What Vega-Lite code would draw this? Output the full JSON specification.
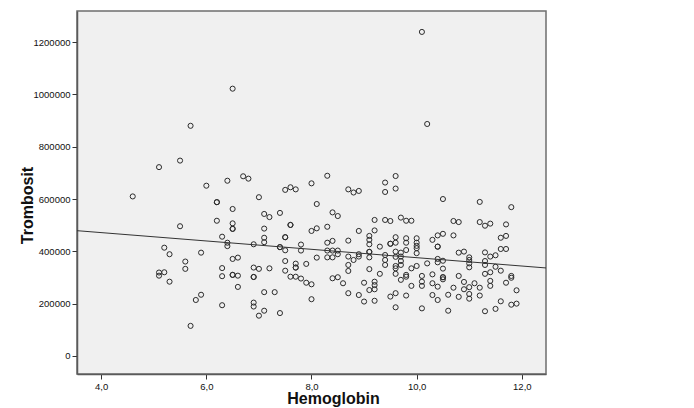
{
  "$schema": "https://vega.github.io/schema/vega-lite/v6.json",
  "width": 469,
  "height": 363,
  "autosize": "none",
  "padding": {"left": 77, "top": 11, "right": 148, "bottom": 34},
  "background": "white",
  "config": {
    "font": "Liberation Sans",
    "locale": {"number": {"decimal": ",", "thousands": "", "grouping": [3], "currency": ["", ""]}},
    "view": {"fill": "#F0F0F0", "stroke": "#6E6E6E", "strokeWidth": 1.5},
    "axis": {
      "grid": false,
      "domainColor": "#5A5A5A",
      "domainWidth": 1.5,
      "tickColor": "#333333",
      "tickSize": 5,
      "labelFontSize": 9.5,
      "labelColor": "#111111",
      "labelPadding": 2,
      "titleFontSize": 16,
      "titleFontWeight": "bold",
      "titleColor": "#111111"
    }
  },
  "datasets": {
    "fit": [
      {"h": 3.54, "t": 479000},
      {"h": 12.46, "t": 336500}
    ]
  },
  "data": {
    "values": [
      {"h":4.6,"t":610000},{"h":5.1,"t":722000},{"h":5.5,"t":747000},{"h":5.7,"t":880000},{"h":6.5,"t":1022000},
      {"h":6.0,"t":651000},{"h":6.4,"t":670000},{"h":6.7,"t":687000},{"h":6.8,"t":678000},{"h":6.2,"t":588000},
      {"h":6.2,"t":588000},{"h":6.5,"t":562000},{"h":7.0,"t":607000},{"h":7.5,"t":635000},{"h":7.6,"t":645000},
      {"h":7.7,"t":637000},{"h":8.0,"t":660000},{"h":8.1,"t":581000},{"h":8.3,"t":689000},{"h":8.7,"t":637000},
      {"h":10.1,"t":1239000},{"h":10.2,"t":887000},{"h":9.6,"t":688000},{"h":9.4,"t":663000},{"h":9.6,"t":640000},
      {"h":9.4,"t":627000},{"h":8.8,"t":625000},{"h":8.9,"t":631000},{"h":10.5,"t":600000},{"h":11.2,"t":589000},
      {"h":11.8,"t":569000},
      {"h":6.2,"t":517000},{"h":6.5,"t":507000},{"h":6.5,"t":486000},{"h":6.5,"t":486000},{"h":7.1,"t":543000},
      {"h":7.2,"t":531000},{"h":7.4,"t":547000},{"h":7.6,"t":501000},{"h":7.6,"t":501000},{"h":8.0,"t":478000},
      {"h":6.3,"t":456000},{"h":6.4,"t":433000},{"h":6.4,"t":420000},{"h":7.1,"t":487000},{"h":7.1,"t":452000},
      {"h":7.1,"t":435000},{"h":7.5,"t":454000},{"h":7.5,"t":454000},{"h":6.9,"t":427000},{"h":7.4,"t":416000},
      {"h":7.4,"t":416000},{"h":7.5,"t":404000},{"h":7.8,"t":426000},{"h":7.8,"t":403000},{"h":5.9,"t":395000},
      {"h":6.5,"t":371000},{"h":6.6,"t":376000},{"h":6.3,"t":336000},{"h":6.3,"t":305000},{"h":6.5,"t":310000},
      {"h":6.5,"t":310000},{"h":6.6,"t":307000},{"h":6.9,"t":338000},{"h":7.0,"t":333000},{"h":7.2,"t":335000},
      {"h":6.9,"t":302000},{"h":6.9,"t":302000},{"h":7.5,"t":363000},{"h":7.5,"t":326000},{"h":7.7,"t":353000},
      {"h":7.7,"t":338000},{"h":7.7,"t":338000},{"h":7.9,"t":352000},{"h":7.6,"t":303000},{"h":7.7,"t":303000},
      {"h":7.8,"t":296000},{"h":7.9,"t":280000},{"h":8.0,"t":274000},{"h":6.6,"t":264000},{"h":5.9,"t":234000},
      {"h":7.1,"t":244000},{"h":7.3,"t":244000},{"h":8.0,"t":217000},{"h":6.3,"t":194000},{"h":6.9,"t":204000},
      {"h":6.9,"t":189000},{"h":7.1,"t":173000},{"h":7.0,"t":154000},{"h":7.4,"t":164000},
      {"h":5.5,"t":496000},{"h":5.2,"t":414000},{"h":5.3,"t":389000},{"h":5.6,"t":361000},{"h":5.6,"t":333000},
      {"h":5.1,"t":319000},{"h":5.1,"t":307000},{"h":5.2,"t":320000},{"h":5.3,"t":284000},{"h":5.8,"t":214000},
      {"h":5.7,"t":115000},
      {"h":8.4,"t":549000},{"h":8.5,"t":535000},{"h":9.2,"t":520000},{"h":9.4,"t":520000},{"h":9.5,"t":516000},
      {"h":9.7,"t":529000},{"h":9.8,"t":517000},{"h":9.9,"t":517000},{"h":8.1,"t":488000},{"h":8.3,"t":494000},
      {"h":8.9,"t":478000},{"h":9.2,"t":480000},{"h":8.3,"t":433000},{"h":8.4,"t":440000},{"h":8.7,"t":441000},
      {"h":9.1,"t":459000},{"h":9.1,"t":444000},{"h":9.1,"t":427000},{"h":9.1,"t":398000},{"h":9.1,"t":398000},
      {"h":9.1,"t":377000},{"h":9.3,"t":418000},{"h":9.5,"t":429000},{"h":9.5,"t":429000},{"h":9.6,"t":454000},
      {"h":9.6,"t":433000},{"h":9.6,"t":399000},{"h":9.6,"t":379000},{"h":9.6,"t":344000},{"h":9.6,"t":335000},
      {"h":9.6,"t":314000},{"h":9.8,"t":450000},{"h":9.8,"t":433000},{"h":9.8,"t":405000},{"h":10.0,"t":450000},
      {"h":10.0,"t":433000},{"h":10.0,"t":421000},{"h":10.0,"t":412000},{"h":10.0,"t":393000},{"h":8.3,"t":403000},
      {"h":8.4,"t":403000},{"h":8.5,"t":403000},{"h":8.5,"t":389000},{"h":8.3,"t":377000},{"h":8.4,"t":377000},
      {"h":8.1,"t":376000},{"h":8.7,"t":380000},{"h":8.8,"t":367000},{"h":8.9,"t":380000},{"h":8.9,"t":389000},
      {"h":9.4,"t":386000},{"h":9.4,"t":367000},{"h":9.4,"t":348000},{"h":9.7,"t":395000},{"h":9.7,"t":380000},
      {"h":9.7,"t":363000},{"h":9.7,"t":348000},{"h":9.9,"t":335000},{"h":9.8,"t":310000},{"h":9.8,"t":303000},
      {"h":8.7,"t":348000},{"h":8.7,"t":325000},{"h":9.1,"t":332000},{"h":9.3,"t":314000},{"h":9.7,"t":291000},
      {"h":10.0,"t":344000},{"h":8.4,"t":297000},{"h":8.5,"t":301000},{"h":8.6,"t":278000},{"h":9.0,"t":280000},
      {"h":9.2,"t":284000},{"h":9.2,"t":271000},{"h":9.2,"t":255000},{"h":9.1,"t":252000},{"h":8.7,"t":240000},
      {"h":8.9,"t":233000},{"h":9.0,"t":208000},{"h":9.2,"t":211000},{"h":9.5,"t":227000},{"h":9.6,"t":240000},
      {"h":9.8,"t":231000},{"h":9.9,"t":268000},{"h":9.6,"t":186000},
      {"h":10.7,"t":516000},{"h":10.8,"t":512000},{"h":11.2,"t":512000},{"h":11.3,"t":498000},{"h":11.4,"t":506000},
      {"h":11.7,"t":503000},{"h":10.7,"t":461000},{"h":10.4,"t":461000},{"h":10.5,"t":467000},{"h":10.3,"t":444000},
      {"h":10.4,"t":418000},{"h":10.4,"t":418000},{"h":11.6,"t":452000},{"h":11.7,"t":459000},{"h":11.6,"t":409000},
      {"h":11.7,"t":409000},{"h":10.8,"t":395000},{"h":10.9,"t":399000},{"h":11.3,"t":396000},{"h":11.4,"t":380000},
      {"h":11.5,"t":385000},{"h":10.4,"t":371000},{"h":10.4,"t":358000},{"h":10.5,"t":364000},{"h":10.2,"t":354000},
      {"h":11.0,"t":377000},{"h":11.0,"t":367000},{"h":11.0,"t":354000},{"h":11.0,"t":339000},{"h":11.3,"t":363000},
      {"h":11.3,"t":348000},{"h":10.5,"t":334000},{"h":11.5,"t":341000},{"h":11.6,"t":326000},{"h":10.1,"t":306000},
      {"h":10.1,"t":284000},{"h":10.1,"t":268000},{"h":10.3,"t":312000},{"h":10.3,"t":278000},{"h":10.5,"t":301000},
      {"h":10.5,"t":301000},{"h":10.5,"t":293000},{"h":10.4,"t":265000},{"h":10.8,"t":306000},{"h":10.9,"t":283000},
      {"h":11.1,"t":278000},{"h":11.2,"t":261000},{"h":11.3,"t":314000},{"h":11.4,"t":320000},{"h":11.4,"t":287000},
      {"h":11.4,"t":268000},{"h":11.8,"t":306000},{"h":11.8,"t":299000},{"h":11.7,"t":280000},{"h":10.7,"t":261000},
      {"h":10.9,"t":255000},{"h":11.0,"t":263000},{"h":11.0,"t":237000},{"h":11.0,"t":219000},{"h":11.2,"t":231000},
      {"h":11.9,"t":251000},{"h":10.6,"t":234000},{"h":10.8,"t":226000},{"h":10.3,"t":233000},{"h":10.4,"t":214000},
      {"h":10.1,"t":182000},{"h":10.6,"t":173000},{"h":11.3,"t":171000},{"h":11.5,"t":180000},{"h":11.6,"t":209000},
      {"h":11.8,"t":196000},{"h":11.9,"t":200000}
    ]
  },
  "layer": [
    {
      "mark": {"type": "point", "shape": "circle", "filled": false, "stroke": "#2B2B2B", "strokeWidth": 1, "size": 26, "opacity": 1},
      "encoding": {
        "x": {
          "field": "h", "type": "quantitative",
          "scale": {"domain": [3.54, 12.46], "nice": false, "zero": false},
          "axis": {"values": [4, 6, 8, 10, 12], "format": ".1f", "title": "Hemoglobin",
                   "titleX": 256, "titleY": 29, "titleAlign": "center", "titleBaseline": "alphabetic"}
        },
        "y": {
          "field": "t", "type": "quantitative",
          "scale": {"domain": [-69000, 1319000], "nice": false, "zero": false},
          "axis": {"values": [0, 200000, 400000, 600000, 800000, 1000000, 1200000], "format": "d", "title": "Trombosit",
                   "titleX": -50, "titleY": 194, "titleAlign": "center", "titleBaseline": "middle", "titleAngle": -90}
        }
      }
    },
    {
      "data": {"name": "fit"},
      "mark": {"type": "line", "color": "#333333", "strokeWidth": 1},
      "encoding": {
        "x": {"field": "h", "type": "quantitative"},
        "y": {"field": "t", "type": "quantitative"}
      }
    }
  ]
}
